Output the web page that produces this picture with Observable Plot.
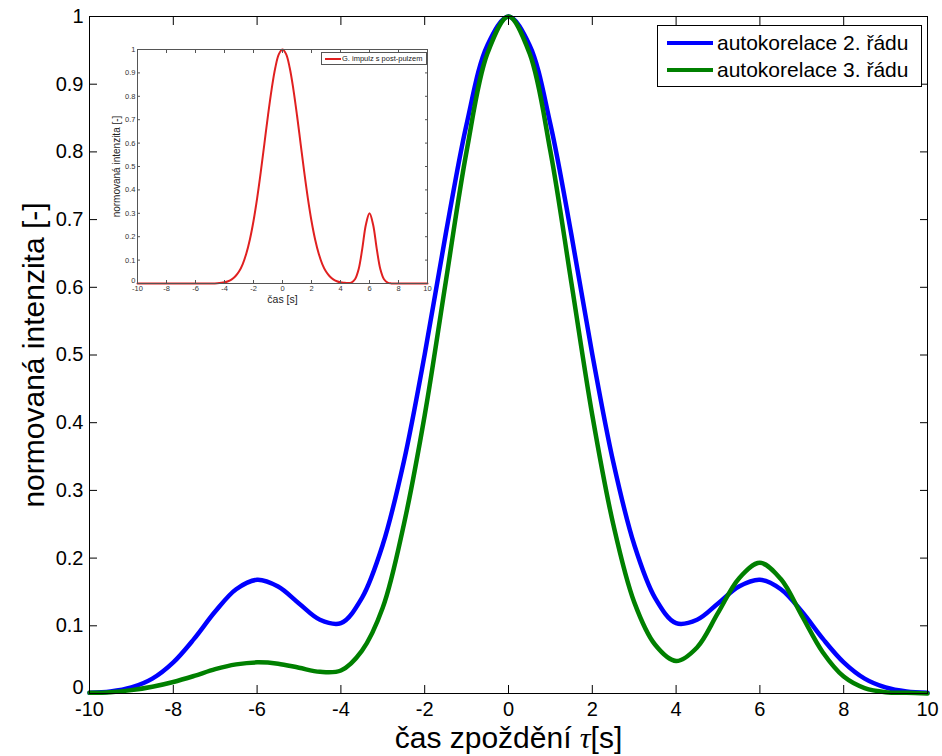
<!DOCTYPE html>
<html><head><meta charset="utf-8">
<script src="https://cdn.jsdelivr.net/npm/d3@7"></script>
<script src="https://cdn.jsdelivr.net/npm/@observablehq/plot@0.6"></script>
<style>
body{margin:0;background:#fff;}
#wrap{position:relative;width:942px;height:756px;overflow:hidden;font-family:"Liberation Sans",Arial,sans-serif;background:#fff;}
#main{position:absolute;left:0;top:0;}
#inset{position:absolute;left:100px;top:40px;}
.legend{position:absolute;left:657px;top:25px;width:263px;height:60px;border:1px solid #000;background:#fff;}
.sw{position:absolute;left:9px;width:46px;height:4px;}
.lt{position:absolute;left:59px;font-size:21px;line-height:24px;color:#000;white-space:nowrap;}
.ilegend{position:absolute;left:321px;top:52px;width:104px;height:11px;border:1px solid #555;background:#fff;}
.isw{position:absolute;left:3px;top:5px;width:16px;height:1.5px;background:#e02020;}
.ilt{position:absolute;left:20px;top:0px;font-size:7.5px;line-height:11px;color:#222;white-space:nowrap;}
</style></head>
<body>
<div id="wrap">
  <div id="main"></div>
  <div id="inset"></div>
  <div class="legend">
    <div class="sw" style="top:15px;background:#0000ff"></div>
    <div class="lt" style="top:5px">autokorelace 2. řádu</div>
    <div class="sw" style="top:42px;background:#008000"></div>
    <div class="lt" style="top:32px">autokorelace 3. řádu</div>
  </div>
  <div class="ilegend">
    <div class="isw"></div>
    <div class="ilt">G. impulz s post-pulzem</div>
  </div>
</div>
<script>
// ---- data ----
const tau = [-10,-9.5,-9,-8.5,-8,-7.5,-7,-6.5,-6,-5.5,-5,-4.5,-4,-3.5,-3,-2.5,-2,-1.5,-1,-0.5,0,
             0.5,1,1.5,2,2.5,3,3.5,4,4.5,5,5.5,6,6.5,7,7.5,8,8.5,9,9.5,10];
const auto2 = [0.001,0.003,0.009,0.022,0.046,0.081,0.121,0.154,0.168,0.158,0.133,0.109,0.104,0.141,0.220,0.342,0.501,0.678,0.841,0.958,1.000,
               0.958,0.841,0.678,0.501,0.342,0.220,0.141,0.104,0.109,0.133,0.158,0.168,0.154,0.121,0.081,0.046,0.022,0.009,0.003,0.001];
const auto3 = [0.001,0.002,0.005,0.010,0.017,0.026,0.036,0.043,0.046,0.044,0.038,0.032,0.034,0.063,0.127,0.249,0.411,0.607,0.801,0.946,1.000,
               0.946,0.801,0.607,0.411,0.250,0.135,0.072,0.048,0.068,0.119,0.170,0.193,0.169,0.115,0.061,0.025,0.008,0.002,0.001,0.000];
const seriesNames = ["autokorelace 2. řádu","autokorelace 3. řádu"];
const seriesColors = ["#0000ff","#008000"];

const pulseT = [-10,-8,-6,-5,-4.5,-4,-3.75,-3.5,-3.25,-3,-2.75,-2.5,-2.25,-2,-1.75,-1.5,-1.25,-1,-0.75,-0.5,-0.25,0,
                0.25,0.5,0.75,1,1.25,1.5,1.75,2,2.25,2.5,2.75,3,3.25,3.5,3.75,4,4.25,4.5,4.75,5,5.25,5.5,5.75,6,
                6.25,6.5,6.75,7,7.25,7.5,8,10];
const pulseI = [0,0,0,0.0003,0.0013,0.005,0.0096,0.0175,0.031,0.051,0.082,0.127,0.188,0.267,0.364,0.476,0.597,0.719,0.830,0.921,0.980,1.000,
                0.980,0.921,0.830,0.719,0.597,0.476,0.364,0.267,0.188,0.127,0.082,0.051,0.031,0.0175,0.0096,0.005,0.003,0.002,0.004,0.018,0.061,0.148,0.251,0.300,
                0.251,0.148,0.061,0.018,0.004,0.0005,0,0];

const xTicks = [-10,-8,-6,-4,-2,0,2,4,6,8,10];
const yTicks = [0,0.1,0.2,0.3,0.4,0.5,0.6,0.7,0.8,0.9,1];
const xTitle = "čas zpoždění τ[s]";
const yTitle = "normovaná intenzita [-]";
const insetXTitle = "čas [s]";
const insetYTitle = "normovaná intenzita [-]";

// ---- build tables ----
const rows = [];
tau.forEach((t,i)=>{ rows.push({t, v: auto2[i], s: seriesNames[0]}); });
tau.forEach((t,i)=>{ rows.push({t, v: auto3[i], s: seriesNames[1]}); });
const pulse = pulseT.map((t,i)=>({t, v: pulseI[i]}));
const yTicksUpper = yTicks.filter(d => d !== 0);
const yTickZero = yTicks.filter(d => d === 0);

const noLab = () => "";
const main = Plot.plot({
  width: 942, height: 756,
  marginLeft: 89, marginRight: 15, marginTop: 16, marginBottom: 63,
  x: {domain: [-10,10]},
  y: {domain: [0,1]},
  color: {domain: seriesNames, range: seriesColors},
  style: {fontFamily: '"Liberation Sans", Arial, sans-serif', fontSize: "20px", color: "#000", background: "transparent", overflow: "visible"},
  marks: [
    Plot.line(rows, {x: "t", y: "v", z: "s", stroke: "s", strokeWidth: 4.5, curve: "catmull-rom"}),
    Plot.frame({stroke: "#000", strokeWidth: 1}),
    Plot.axisX({ticks: xTicks, anchor: "bottom", tickSize: 0, tickPadding: 8, tickFormat: d => String(d), label: null, fontSize: 20}),
    Plot.axisX({ticks: xTicks, anchor: "bottom", tickSize: -8, tickFormat: noLab, label: null}),
    Plot.axisX({ticks: xTicks, anchor: "top", tickSize: -8, tickFormat: noLab, label: null}),
    Plot.axisY({ticks: yTicksUpper, anchor: "left", tickSize: 0, tickPadding: 6, tickFormat: d => String(d), label: null, fontSize: 20}),
    Plot.axisY({ticks: yTickZero, anchor: "left", tickSize: 0, tickPadding: 6, dy: -6, tickFormat: d => String(d), label: null, fontSize: 20}),
    Plot.axisY({ticks: yTicks, anchor: "left", tickSize: -8, tickFormat: noLab, label: null}),
    Plot.axisY({ticks: yTicks, anchor: "right", tickSize: -8, tickFormat: noLab, label: null}),
    Plot.text([xTitle], {frameAnchor: "bottom", dy: 45, textAnchor: "middle", lineAnchor: "middle", fontSize: 30, fill: "#000"}),
    Plot.text([yTitle], {frameAnchor: "left", dx: -55, rotate: -90, textAnchor: "middle", lineAnchor: "middle", fontSize: 30, fill: "#000"})
  ]
});
document.getElementById("main").appendChild(main);

// style tau as italic serif
main.querySelectorAll("text").forEach(el => {
  if (el.textContent === xTitle) {
    el.textContent = "";
    const ns = "http://www.w3.org/2000/svg";
    const a = document.createElementNS(ns, "tspan"); a.textContent = "čas zpoždění ";
    const b = document.createElementNS(ns, "tspan"); b.textContent = "τ";
    b.setAttribute("font-family", '"Liberation Serif", "DejaVu Serif", serif');
    b.setAttribute("font-style", "italic");
    const c = document.createElementNS(ns, "tspan"); c.textContent = "[s]";
    el.appendChild(a); el.appendChild(b); el.appendChild(c);
  }
});

const inset = Plot.plot({
  width: 329, height: 270,
  marginLeft: 37, marginRight: 2, marginTop: 9, marginBottom: 27,
  x: {domain: [-10,10]},
  y: {domain: [0,1]},
  style: {fontFamily: '"Liberation Sans", Arial, sans-serif', fontSize: "7.5px", color: "#333", background: "#fff", overflow: "visible"},
  marks: [
    Plot.line(pulse, {x: "t", y: "v", stroke: "#e02020", strokeWidth: 2, curve: "catmull-rom"}),
    Plot.frame({stroke: "#555", strokeWidth: 1}),
    Plot.axisX({ticks: xTicks, anchor: "bottom", tickSize: 0, tickPadding: 2, tickFormat: d => String(d), label: null}),
    Plot.axisX({ticks: xTicks, anchor: "bottom", tickSize: -3, tickFormat: noLab, label: null, stroke: "#555"}),
    Plot.axisX({ticks: xTicks, anchor: "top", tickSize: -3, tickFormat: noLab, label: null, stroke: "#555"}),
    Plot.axisY({ticks: yTicksUpper, anchor: "left", tickSize: 0, tickPadding: 2, tickFormat: d => String(d), label: null}),
    Plot.axisY({ticks: yTickZero, anchor: "left", tickSize: 0, tickPadding: 2, dy: -3, tickFormat: d => String(d), label: null}),
    Plot.axisY({ticks: yTicks, anchor: "left", tickSize: -3, tickFormat: noLab, label: null, stroke: "#555"}),
    Plot.axisY({ticks: yTicks, anchor: "right", tickSize: -3, tickFormat: noLab, label: null, stroke: "#555"}),
    Plot.text([insetXTitle], {frameAnchor: "bottom", dy: 16, textAnchor: "middle", lineAnchor: "middle", fontSize: 10.5, fill: "#222"}),
    Plot.text([insetYTitle], {frameAnchor: "left", dx: -21, rotate: -90, textAnchor: "middle", lineAnchor: "middle", fontSize: 10, fill: "#222"})
  ]
});
document.getElementById("inset").appendChild(inset);
</script>
</body></html>
